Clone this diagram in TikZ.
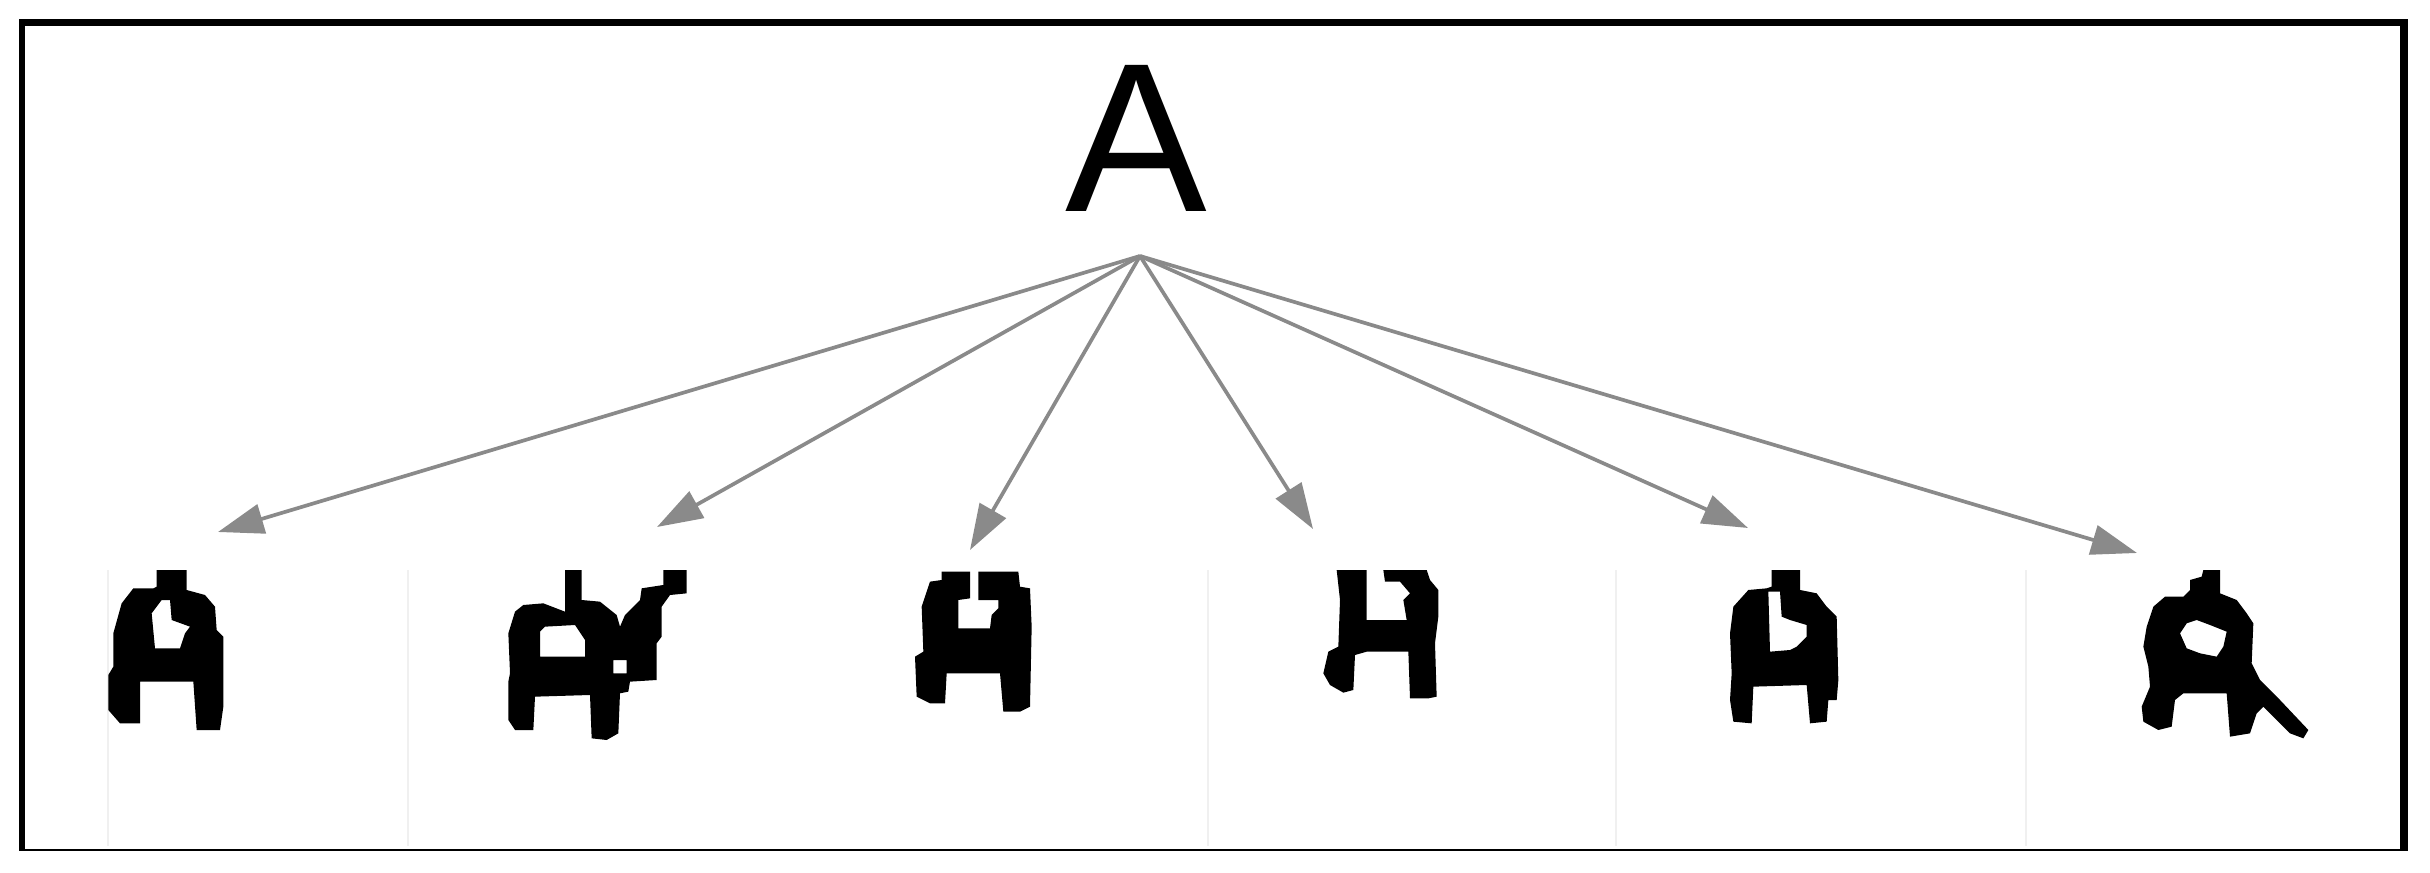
\documentclass[tikz,border=0pt]{standalone}
\usepackage{fontspec}
\setmainfont{Liberation Sans}
\usetikzlibrary{arrows.meta}
\definecolor{arrowgray}{RGB}{138,138,138}
\begin{document}
\begin{tikzpicture}[x=0.01cm,y=-0.01cm,
  conn/.style={draw=arrowgray, line width=1.05pt, -{Triangle[length=13pt,width=8.5pt]}},
  glyph/.style={fill=black, even odd rule},
  tile/.style={draw=black!6, line width=0.3pt}]
\useasboundingbox (0,0) rectangle (2430,873);
% faint tile edges
\foreach \xx in {108,408,1208,1616,2026} \draw[tile] (\xx,570) -- (\xx,846);
% frame
\draw[line width=2pt] (19,22.5) -- (2408,22.5);
\draw[line width=1.85pt] (22,19.5) -- (22,851);
\draw[line width=2.3pt] (2404,19.5) -- (2404,851);
\draw[line width=0.6pt] (19,850) -- (2408,850);
% top letter
\node[anchor=base, inner sep=0pt, font=\fontsize{60.4}{72}\selectfont] (top) at (1136.5,212) {A};
\coordinate (hub) at (1140,256);
\coordinate (t1) at (218,532);
\coordinate (t2) at (657,527);
\coordinate (t3) at (970,550);
\coordinate (t4) at (1313,529);
\coordinate (t5) at (1748,528);
\coordinate (t6) at (2137,553);
\foreach \t in {t1,t2,t3,t4,t5,t6} \draw[conn] (hub) -- (\t);
% glyph 1
\begin{scope}[shift={(90,500)}, scale=1/3]
\fill[glyph] (200,210) -- (290,210) -- (290,270) -- (345,285) -- (375,320) -- (380,390) -- (400,410) -- (400,620) -- (390,690) -- (320,690) -- (310,545) -- (150,545) -- (150,670) -- (90,670) -- (55,630) -- (55,525) -- (70,500) -- (70,400) -- (95,310) -- (130,265) -- (190,265) -- (200,260) -- cycle
 (185,340) -- (215,300) -- (240,300) -- (245,360) -- (300,380) -- (285,400) -- (270,445) -- (195,445) -- cycle;
\end{scope}
% glyph 2
\begin{scope}[shift={(490,500)}, scale=1/3]
\fill[glyph] (225,210) -- (275,210) -- (275,300) -- (330,305) -- (380,345) -- (390,380) -- (405,345) -- (450,300) -- (455,265) -- (520,255) -- (520,210) -- (590,210) -- (590,280) -- (540,285) -- (515,320) -- (515,410) -- (500,430) -- (500,540) -- (420,545) -- (415,575) -- (390,580) -- (385,700) -- (350,720) -- (305,715) -- (300,585) -- (135,590) -- (130,690) -- (75,690) -- (55,660) -- (55,545) -- (60,520) -- (55,400) -- (75,335) -- (100,315) -- (160,310) -- (225,335) -- cycle
 (150,395) -- (165,380) -- (255,375) -- (285,420) -- (285,470) -- (150,470) -- cycle
 (370,480) -- (410,480) -- (410,520) -- (370,520) -- cycle;
\end{scope}
% glyph 3
\begin{scope}[shift={(890,500)}, scale=1/3]
\fill[glyph] (155,215) -- (240,215) -- (240,295) -- (205,300) -- (205,385) -- (300,385) -- (305,345) -- (325,325) -- (325,300) -- (265,300) -- (265,215) -- (385,215) -- (390,260) -- (420,265) -- (425,380) -- (420,620) -- (390,635) -- (340,635) -- (330,520) -- (170,520) -- (165,610) -- (120,610) -- (80,590) -- (75,470) -- (100,455) -- (95,320) -- (120,245) -- (155,240) -- cycle;
\end{scope}
% glyph 4
\begin{scope}[shift={(1290,500)}, scale=1/3]
\fill[glyph] (140,210) -- (230,210) -- (230,360) -- (350,360) -- (340,300) -- (360,280) -- (330,245) -- (285,245) -- (280,210) -- (410,210) -- (420,240) -- (445,270) -- (445,350) -- (435,430) -- (440,590) -- (415,595) -- (360,595) -- (355,455) -- (230,455) -- (195,465) -- (190,570) -- (160,578) -- (120,555) -- (100,520) -- (115,455) -- (145,440) -- (150,300) -- cycle;
\end{scope}
% glyph 5
\begin{scope}[shift={(1700,500)}, scale=1/3]
\fill[glyph] (215,210) -- (300,210) -- (300,270) -- (350,280) -- (380,320) -- (410,350) -- (415,540) -- (410,600) -- (385,600) -- (380,665) -- (330,670) -- (320,555) -- (160,560) -- (155,670) -- (100,665) -- (90,600) -- (95,520) -- (90,400) -- (100,320) -- (145,270) -- (200,265) -- (215,260) -- cycle
 (205,275) -- (240,275) -- (245,350) -- (270,360) -- (320,375) -- (320,410) -- (290,440) -- (270,450) -- (210,455) -- cycle;
\end{scope}
% glyph 6
\begin{scope}[shift={(2100,500)}, scale=1/3]
\fill[glyph] (310,210) -- (360,210) -- (360,280) -- (410,300) -- (440,340) -- (460,370) -- (455,490) -- (480,540) -- (540,600) -- (625,690) -- (610,715) -- (570,700) -- (490,620) -- (470,640) -- (450,700) -- (390,710) -- (380,580) -- (250,580) -- (225,600) -- (215,680) -- (175,690) -- (130,665) -- (125,620) -- (150,560) -- (145,500) -- (130,440) -- (140,380) -- (160,320) -- (195,290) -- (250,290) -- (270,270) -- (270,240) -- (305,230) -- cycle
 (240,400) -- (260,370) -- (290,360) -- (330,375) -- (380,395) -- (370,440) -- (350,470) -- (300,460) -- (260,445) -- cycle;
\end{scope}
\end{tikzpicture}
\end{document}
